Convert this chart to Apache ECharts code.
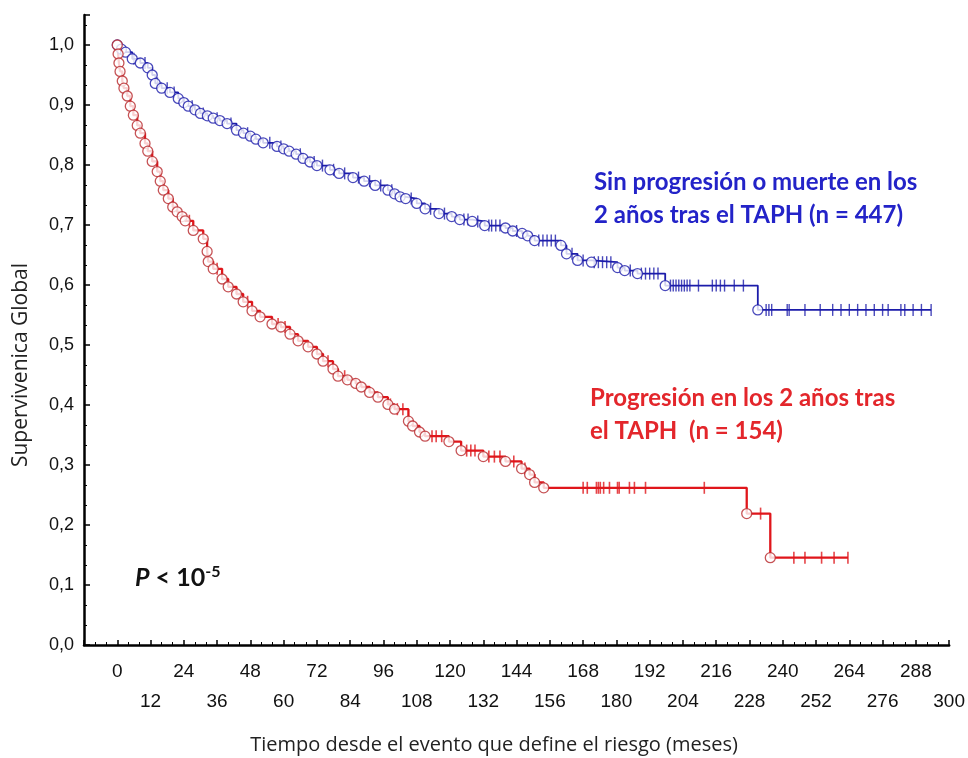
<!DOCTYPE html>
<html>
<head>
<meta charset="utf-8">
<script src="https://cdn.jsdelivr.net/npm/echarts@6/dist/echarts.min.js"></script>
<style>html,body{margin:0;padding:0;background:#fff}#c{width:968px;height:758px}</style>
</head>
<body>
<div id="c"></div>
<script>
// ---- Data ----
var blueEventT = [0,1.5,3,5.4,8.3,11,12.6,13.7,16,19,22,24,25.6,28,30,32.5,34.6,37,39.6,43,45.5,48,50,52.6,57.6,60,62,64.5,67,69.5,72,76.7,80,85,89,93,97.6,100,102,104,108,111,116,120.6,123.5,128,132.5,140,142.6,146,148,150.5,160,162,166,171,180.4,183,187.6,197.6,231];
var blueEventS = [1.0,0.993,0.988,0.977,0.970,0.962,0.950,0.936,0.928,0.921,0.911,0.904,0.898,0.892,0.886,0.882,0.878,0.874,0.869,0.858,0.853,0.848,0.843,0.837,0.831,0.827,0.823,0.818,0.811,0.805,0.799,0.792,0.786,0.779,0.773,0.766,0.758,0.752,0.747,0.744,0.736,0.727,0.719,0.714,0.709,0.706,0.699,0.695,0.690,0.686,0.682,0.674,0.666,0.652,0.641,0.638,0.629,0.624,0.619,0.599,0.5585];
var blueEnd = 293.5;
var blueCensorT = [6,10,14.5,18,20.5,27,31,36,41,47,55,59,66,71,74,78,82,87,91,95,99,106,113,118,125,126.5,130,134,135,136.5,138,144,152,153.5,155,156.5,158,164,168,172,173.5,175,176.5,178,185,189,190.5,192,193.5,195,199.5,200.5,201.5,202.5,203.5,204.5,205.5,206.5,209.6,214.6,216,217.5,219,222.5,225.8,234,235,236,241.6,242.3,248,253.5,258,261,264,267,270,273,276,278,282.6,284,287,290,293.5];

var redEventT = [0,0.3,0.6,1.0,1.8,2.4,3.6,4.7,5.8,7.2,8.3,10,11,12.6,14.4,15.5,16.6,18.4,20,21.6,23.4,24.5,27.4,31,32.4,32.8,34.6,37.8,40,43,45.4,48.6,51.5,55.8,59,62.3,65.2,68.8,72,74.2,77.8,79.6,83,86,88,91,94,97.6,100,105,106.5,109,111,119.6,124,132,140,145.8,148.7,150.5,153.8,227,235.5];
var redEventS = [1.0,0.985,0.970,0.956,0.940,0.928,0.915,0.898,0.883,0.866,0.853,0.836,0.823,0.806,0.789,0.773,0.758,0.744,0.730,0.722,0.714,0.707,0.691,0.677,0.656,0.639,0.627,0.610,0.597,0.585,0.572,0.557,0.547,0.535,0.530,0.518,0.507,0.497,0.485,0.473,0.460,0.448,0.442,0.436,0.430,0.421,0.413,0.401,0.393,0.373,0.365,0.355,0.348,0.339,0.324,0.314,0.306,0.294,0.284,0.271,0.262,0.219,0.1455];
var redEnd = 263.5;
var redCensorT = [26,36,47,58,60.5,76,82,98.5,101,103,113.5,115,117,126,127.5,129,134,136,138,143,147,168,169.5,172.8,173.5,174.2,175.4,177.5,180.4,181,184.7,186.5,190.5,211.7,232,244,248,254,258.5,263.5];

var yTicks = [0,0.1,0.2,0.3,0.4,0.5,0.6,0.7,0.8,0.9,1.0];
var xTicksTop = [0,24,48,72,96,120,144,168,192,216,240,264,288];
var xTicksBottom = [12,36,60,84,108,132,156,180,204,228,252,276,300];

var blueLabel = ['Sin progresión o muerte en los', '2 años tras el TAPH (n = 447)'];
var redLabel = ['Progresión en los 2 años tras', 'el TAPH  (n = 154)'];

// ---- Helpers ----
function pairs(ts, ss){ return ts.map(function(t,i){return [t, ss[i]];}); }
function levelAt(ts, ss, t){ var s = ss[0]; for (var i=0;i<ts.length;i++){ if (ts[i] <= t) s = ss[i]; } return s; }
function lineData(ts, ss, end){ var d = pairs(ts, ss); d.push([end, ss[ss.length-1]]); return d; }
function censorData(cts, ts, ss){ return cts.map(function(t){ return [t, levelAt(ts, ss, t)]; }); }

var BLUE = '#1c1caa', BLUE_TXT = '#2323c8';
var RED = '#e0161b', RED_C = '#b8282c', RED_TXT = '#e3262b';

var chart = echarts.init(document.getElementById('c'), null, {renderer:'canvas'});
var option = {
  animation: false,
  backgroundColor: '#fff',
  grid: {left: 84, right: 18, top: 15, bottom: 113, containLabel: false},
  xAxis: {
    type: 'value', min: -12, max: 300, interval: 12,
    axisLine: {onZero: false, lineStyle: {color: '#000', width: 2.5}},
    axisTick: {inside: true, length: 5, lineStyle: {color: '#000', width: 1.5}},
    minorTick: {show: true, splitNumber: 3, length: 3, lineStyle: {color: '#000', width: 1}},
    splitLine: {show: false},
    axisLabel: {
      margin: 12, fontSize: 19, lineHeight: 30, color: '#111',
      fontFamily: '"Liberation Sans", sans-serif',
      formatter: function(v){
        if (xTicksTop.indexOf(v) >= 0) return String(v);
        if (xTicksBottom.indexOf(v) >= 0) return '\n' + v;
        return '';
      }
    }
  },
  yAxis: {
    type: 'value', min: 0, max: 1.05, interval: 0.1,
    axisLine: {onZero: false, lineStyle: {color: '#000', width: 2.5}},
    axisTick: {inside: true, length: 6, lineStyle: {color: '#000', width: 1.5}},
    minorTick: {show: true, splitNumber: 3, length: 3, lineStyle: {color: '#000', width: 1}},
    splitLine: {show: false},
    axisLabel: {
      margin: 10, fontSize: 18, color: '#111', fontFamily: '"Liberation Sans", sans-serif',
      formatter: function(v){
        for (var i=0;i<yTicks.length;i++){ if (Math.abs(yTicks[i]-v) < 1e-6) return yTicks[i].toFixed(1).replace('.', ','); }
        return '';
      }
    }
  },
  series: [
    {type:'line', step:'end', symbol:'none', data: lineData(blueEventT, blueEventS, blueEnd), lineStyle:{color: BLUE, width: 1.8}, z: 2},
    {type:'line', step:'end', symbol:'none', data: lineData(redEventT, redEventS, redEnd), lineStyle:{color: RED, width: 2.3}, z: 2},
    {type:'scatter', symbol:'rect', symbolSize:[1.4, 12], data: censorData(blueCensorT, blueEventT, blueEventS), itemStyle:{color: BLUE}, z: 3},
    {type:'scatter', symbol:'rect', symbolSize:[1.6, 12], data: censorData(redCensorT, redEventT, redEventS), itemStyle:{color: RED}, z: 3},
    {type:'scatter', symbol:'circle', symbolSize: 10, data: pairs(blueEventT, blueEventS), itemStyle:{color:'#fff', borderColor: BLUE, borderWidth: 1.3}, z: 4},
    {type:'scatter', symbol:'circle', symbolSize: 10, data: pairs(redEventT, redEventS), itemStyle:{color:'#fff', borderColor: RED_C, borderWidth: 1.3}, z: 4}
  ],
  graphic: [
    {type:'text', x: 494, y: 745, style:{text:'Tiempo desde el evento que define el riesgo (meses)', fill:'#222', font:'20px "Open Sans", sans-serif', textAlign:'center', textVerticalAlign:'middle'}},
    {type:'text', x: 21, y: 365, rotation: Math.PI/2, style:{text:'Supervivenica Global', fill:'#222', font:'21px "Open Sans", sans-serif', textAlign:'center', textVerticalAlign:'middle'}},
    {type:'text', x: 594, y: 182, style:{text: blueLabel[0], fill: BLUE_TXT, font:'bold 24px Lato, sans-serif', textAlign:'left', textVerticalAlign:'middle'}},
    {type:'text', x: 594, y: 215, style:{text: blueLabel[1], fill: BLUE_TXT, font:'bold 24px Lato, sans-serif', textAlign:'left', textVerticalAlign:'middle'}},
    {type:'text', x: 590, y: 398, style:{text: redLabel[0], fill: RED_TXT, font:'bold 24px Lato, sans-serif', textAlign:'left', textVerticalAlign:'middle'}},
    {type:'text', x: 590, y: 431, style:{text: redLabel[1], fill: RED_TXT, font:'bold 24px Lato, sans-serif', textAlign:'left', textVerticalAlign:'middle'}},
    {type:'text', x: 135, y: 578, style:{
      text:'{p|P}{n| < 10}{s|-5}', textAlign:'left', textVerticalAlign:'middle',
      rich:{
        p:{font:'italic bold 25px Lato, sans-serif', fill:'#111'},
        n:{font:'bold 25px Lato, sans-serif', fill:'#111'},
        s:{font:'bold 16px Lato, sans-serif', fill:'#111', verticalAlign:'top', padding:[0,0,12,0]}
      }}}
  ]
};
chart.setOption(option);
</script>
</body>
</html>
